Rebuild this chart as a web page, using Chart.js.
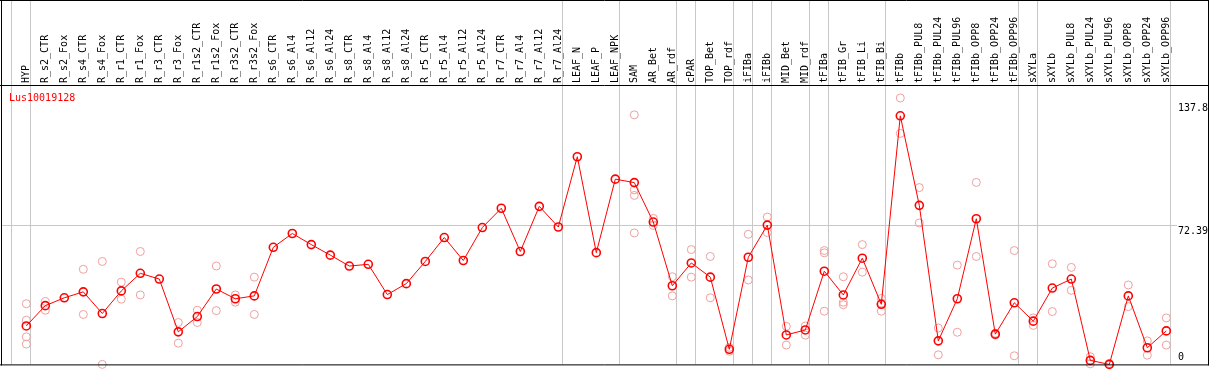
<!DOCTYPE html>
<html>
<head>
<meta charset="utf-8">
<script src="https://cdn.jsdelivr.net/npm/chart.js@4/dist/chart.umd.min.js"></script>
<style>
  html, body { margin: 0; padding: 0; background: #fff; }
  #wrap { width: 1209px; height: 370px; }
</style>
</head>
<body>
<div id="wrap"><canvas id="chart" width="1209" height="370"></canvas></div>
<script>
const geneName = 'Lus10019128'

const categories = [
  'HYP', 'R_s2_CTR', 'R_s2_Fox', 'R_s4_CTR', 'R_s4_Fox', 'R_r1_CTR', 'R_r1_Fox', 'R_r3_CTR', 'R_r3_Fox',
  'R_r1s2_CTR', 'R_r1s2_Fox', 'R_r3s2_CTR', 'R_r3s2_Fox', 'R_s6_CTR', 'R_s6_Al4', 'R_s6_Al12', 'R_s6_Al24',
  'R_s8_CTR', 'R_s8_Al4', 'R_s8_Al12', 'R_s8_Al24', 'R_r5_CTR', 'R_r5_Al4', 'R_r5_Al12', 'R_r5_Al24',
  'R_r7_CTR', 'R_r7_Al4', 'R_r7_Al12', 'R_r7_Al24', 'LEAF_N', 'LEAF_P', 'LEAF_NPK', 'SAM', 'AR_Bet', 'AR_rdf',
  'cPAR', 'TOP_Bet', 'TOP_rdf', 'iFIBa', 'iFIBb', 'MID_Bet', 'MID_rdf', 'tFIBa', 'tFIB_Gr', 'tFIB_Li', 'tFIB_Bi',
  'tFIBb', 'tFIBb_PUL8', 'tFIBb_PUL24', 'tFIBb_PUL96', 'tFIBb_OPP8', 'tFIBb_OPP24', 'tFIBb_OPP96',
  'sXYLa', 'sXYLb', 'sXYLb_PUL8', 'sXYLb_PUL24', 'sXYLb_PUL96', 'sXYLb_OPP8', 'sXYLb_OPP24', 'sXYLb_OPP96'
]

// mean expression per sample
const means = [
  20.1, 30.7, 34.8, 37.9, 26.6, 38.4, 47.6, 44.6, 17.0,
  25.0, 39.4, 34.3, 35.8, 61.2, 68.4, 62.6, 57.1,
  51.4, 52.3, 36.5, 42.2, 53.8, 66.3, 54.3, 71.5,
  81.6, 59.0, 82.6, 71.8, 108.5, 58.4, 96.8, 95.0, 74.4, 41.1,
  53.0, 45.6, 7.9, 56.0, 72.8, 15.4, 18.0, 48.7, 36.3, 55.5, 31.4,
  129.9, 83.1, 12.3, 34.3, 76.1, 15.8, 32.2,
  22.6, 39.9, 44.6, 2.1, 0, 35.8, 8.7, 17.5
]

// single replicates per sample (empty = not shown)
const replicates = [
  [31.7, 23.1, 14.4, 10.6], [32.9, 28.3], [], [49.7, 26.1], [53.8, 0], [43.0, 34.1], [59.0, 36.3], [], [21.9, 11.1],
  [28.3, 21.9], [51.4, 28.1], [36.3, 32.5], [45.6, 26.1], [], [], [], [],
  [], [], [], [], [], [], [], [],
  [], [], [], [], [], [], [], [130.4, 91.2, 88.3, 68.7], [76.3, 72.6], [45.8, 35.8],
  [60.0, 45.6], [56.4, 34.8], [8.9, 6.9], [68.0, 44.1], [77.0, 68.9], [19.9, 10.1], [20.1, 15.3],
  [59.5, 58.3, 27.8], [45.8, 32.5, 31.2], [62.6, 48.2], [34.5, 32.0, 27.8],
  [139.2, 120.7], [92.4, 73.9], [19.0, 5.0], [51.9, 16.8], [95.1, 56.4], [16.3, 15.3], [59.5, 4.5],
  [24.3, 20.4], [52.6, 27.6], [50.7, 38.7], [4.0, 0.3], [0.5, 0], [41.5, 30.2], [12.3, 4.8], [24.3, 10.1]
]

const yTicks = [137.8, 72.39, 0]
const gridValue = 72.39
// last sample index of each tissue group (-1 = before the first)
const groupEnds = [-1, 0, 28, 31, 34, 35, 37, 38, 39, 41, 42, 45, 52, 53, 60]

const FONT = '10px "DejaVu Sans Mono", monospace'

const repPoints = []
replicates.forEach((vals, i) => {
  vals.forEach(v => repPoints.push({ x: categories[i], y: v }))
})

const framePlugin = {
  id: 'frame',
  beforeDraw(chart) {
    const ctx = chart.ctx
    ctx.save()
    ctx.fillStyle = '#fff'
    ctx.fillRect(0, 0, chart.width, chart.height)
    ctx.restore()
  },
  beforeDatasetsDraw(chart) {
    const ctx = chart.ctx
    const xs = chart.scales.x
    const ys = chart.scales.y
    const bottom = chart.chartArea.bottom
    ctx.save()
    ctx.strokeStyle = '#c8c8c8'
    ctx.lineWidth = 1
    ctx.beginPath()
    groupEnds.forEach(i => {
      const x = Math.floor(xs.getPixelForValue(i) + 4.4) + 0.5
      ctx.moveTo(x, 0)
      ctx.lineTo(x, bottom)
    })
    const gy = Math.floor(ys.getPixelForValue(gridValue)) + 0.5
    ctx.moveTo(1, gy)
    ctx.lineTo(1177, gy)
    ctx.stroke()
    ctx.restore()
  },
  afterDatasetsDraw(chart) {
    const ctx = chart.ctx
    const ys = chart.scales.y
    const { top, bottom } = chart.chartArea
    const w = chart.width
    ctx.save()
    ctx.strokeStyle = '#000'
    ctx.lineWidth = 1
    ctx.beginPath()
    ctx.moveTo(0, 0.5); ctx.lineTo(w, 0.5)
    ctx.moveTo(0, top + 0.5); ctx.lineTo(w, top + 0.5)
    ctx.moveTo(0, bottom + 0.5); ctx.lineTo(w, bottom + 0.5)
    ctx.moveTo(1.5, 0); ctx.lineTo(1.5, bottom + 1)
    ctx.moveTo(w - 0.5, 0); ctx.lineTo(w - 0.5, bottom + 1)
    ctx.stroke()

    ctx.font = FONT
    ctx.textBaseline = 'alphabetic'
    ctx.textAlign = 'left'
    ctx.fillStyle = '#ff0000'
    ctx.fillText(geneName, 9, 101)

    ctx.fillStyle = '#000'
    yTicks.forEach(v => {
      const y = ys.getPixelForValue(v)
      const off = v === 0 ? -4 : (v === gridValue ? 8.5 : 10.5)
      ctx.fillText(String(v), 1178, y + off)
    })
    ctx.restore()
  }
}

new Chart(document.getElementById('chart'), {
  type: 'line',
  data: {
    labels: categories,
    datasets: [
      {
        label: geneName,
        data: means,
        borderColor: '#ff0000',
        borderWidth: 1,
        pointRadius: 4,
        pointBorderWidth: 1.6,
        pointBorderColor: '#ff0000',
        pointBackgroundColor: 'rgba(0,0,0,0)',
        tension: 0,
        clip: false
      },
      {
        label: 'replicates',
        data: repPoints,
        showLine: false,
        pointRadius: 4,
        pointBorderWidth: 1,
        pointBorderColor: '#f0a0a0',
        pointBackgroundColor: 'rgba(0,0,0,0)',
        clip: false
      }
    ]
  },
  options: {
    responsive: false,
    animation: false,
    devicePixelRatio: 1,
    layout: { padding: { left: 16.8, right: 33.2, top: 0, bottom: 1 } },
    plugins: { legend: { display: false }, tooltip: { enabled: false } },
    scales: {
      x: {
        type: 'category',
        position: 'top',
        offset: true,
        grid: { display: false, drawTicks: false },
        border: { display: false },
        ticks: {
          autoSkip: false,
          minRotation: 90,
          maxRotation: 90,
          padding: 2,
          labelOffset: 12.5,
          color: '#000',
          font: { family: '"DejaVu Sans Mono", monospace', size: 10 }
        },
        afterFit: s => { s.height = 85 }
      },
      y: {
        display: false,
        min: 0,
        max: 146
      }
    }
  },
  plugins: [framePlugin]
})
</script>
</body>
</html>
